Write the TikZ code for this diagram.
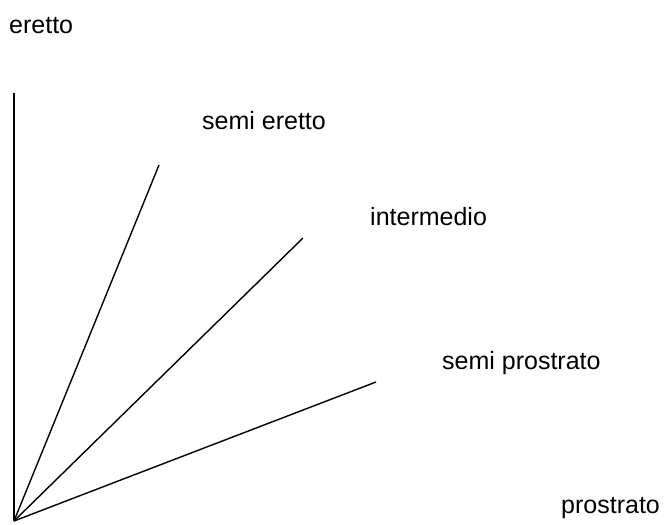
\documentclass[tikz,border=0pt]{standalone}
\usepackage{fontspec}
\setmainfont{Liberation Sans}
\begin{document}
\begin{tikzpicture}[x=1pt,y=-1pt,
  lbl/.style={anchor=base west,inner sep=0pt,font=\fontsize{25}{30}\selectfont},
  ray/.style={draw=black,line width=1.4pt}]
\useasboundingbox (0,0) rectangle (671,524);
\coordinate (o) at (14,521);
\coordinate (v) at (14,93);
\coordinate (a) at (159,165);
\coordinate (b) at (303,238);
\coordinate (c) at (376,382);
\draw[ray] (o) -- (v);
\draw[ray] (o) -- (a);
\draw[ray] (o) -- (b);
\draw[ray] (o) -- (c);
\node[lbl] (t1) at (9,34) {eretto};
\node[lbl] (t2) at (202,129) {semi eretto};
\node[lbl] (t3) at (370,225) {intermedio};
\node[lbl] (t4) at (442,369) {semi prostrato};
\node[lbl] (t5) at (561,513) {prostrato};
\end{tikzpicture}
\end{document}
